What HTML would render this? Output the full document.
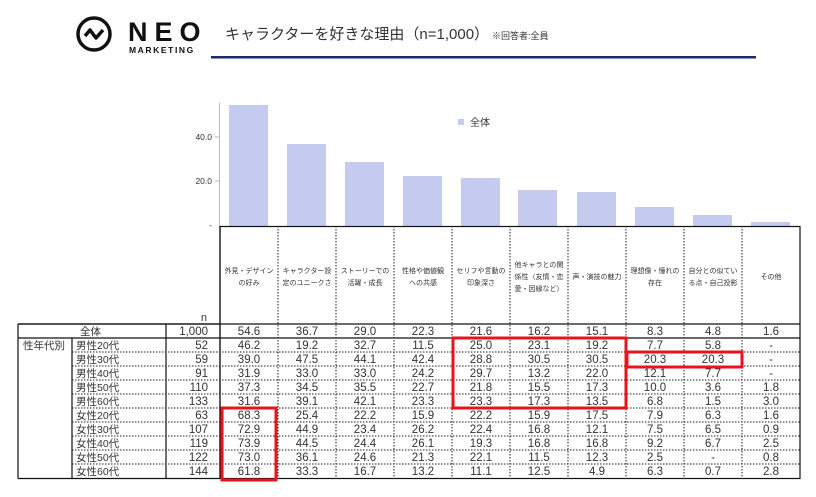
<!DOCTYPE html>
<html><head><meta charset="utf-8"><style>
html,body{margin:0;padding:0;background:#fff;width:816px;height:497px;overflow:hidden}
svg{display:block;font-family:"Liberation Sans","Noto Sans CJK JP",sans-serif}
.n{font-size:11.5px;fill:#333;text-anchor:middle}
.r{font-size:11.5px;fill:#333;text-anchor:end}
.l{font-size:10.5px;fill:#333}
.h{font-size:7px;fill:#333;text-anchor:middle}
.dot{stroke:#222;stroke-width:1;stroke-dasharray:1.5,1.5}
</style></head><body>
<svg width="816" height="497" viewBox="0 0 816 497">
<circle cx="94" cy="34" r="16" fill="none" stroke="#111" stroke-width="3.5"/>
<polyline points="85,36 90,30 96,38 103,30" fill="none" stroke="#111" stroke-width="3.5" stroke-linejoin="round"/>
<text x="128" y="41" font-size="27" font-weight="bold" fill="#111" letter-spacing="7">NEO</text>
<text x="129" y="53" font-size="8.5" font-weight="bold" fill="#111" letter-spacing="1.6">MARKETING</text>
<text x="225" y="39" font-size="15" fill="#333">キャラクターを好きな理由（n=1,000）</text>
<text x="492" y="39" font-size="9" fill="#333">※回答者:全員</text>
<rect x="211" y="56" width="545" height="2.5" fill="#1f2a6b"/>
<line x1="219.5" y1="103" x2="219.5" y2="226" stroke="#bbb"/>
<text x="212" y="140" font-size="8.5" fill="#333" text-anchor="end">40.0</text>
<text x="212" y="184" font-size="8.5" fill="#333" text-anchor="end">20.0</text>
<text x="212" y="228" font-size="8.5" fill="#333" text-anchor="end">-</text>
<line x1="215" y1="137" x2="219" y2="137" stroke="#bbb"/>
<line x1="215" y1="181" x2="219" y2="181" stroke="#bbb"/>
<g fill="#c5cbef">
<rect x="229" y="105" width="39" height="121"/>
<rect x="287" y="144" width="39" height="82"/>
<rect x="345" y="162" width="39" height="64"/>
<rect x="403" y="176" width="39" height="50"/>
<rect x="461" y="178" width="39" height="48"/>
<rect x="518" y="190" width="39" height="36"/>
<rect x="577" y="192" width="39" height="34"/>
<rect x="635" y="207" width="39" height="19"/>
<rect x="693" y="215" width="39" height="11"/>
<rect x="751" y="222" width="39" height="4"/>
</g>
<rect x="458" y="119" width="6" height="6" fill="#c5cbef"/>
<text x="470" y="126" font-size="10" fill="#333">全体</text>
<g stroke="#111" stroke-width="1.2" fill="none">
<rect x="220" y="226.5" width="580" height="252"/>
<line x1="18" y1="324" x2="220" y2="324"/>
<line x1="18" y1="324" x2="18" y2="478.5"/>
<line x1="18" y1="478.5" x2="220" y2="478.5"/>
<line x1="166" y1="324" x2="166" y2="478.5"/>
<line x1="72" y1="338" x2="72" y2="478.5"/>
<line x1="18" y1="324" x2="800" y2="324"/>
<line x1="18" y1="338" x2="800" y2="338"/>
<line x1="220" y1="226" x2="220" y2="478.5"/>
</g>
<g class="dot">
<line x1="278" y1="226" x2="278" y2="478"/><line x1="336" y1="226" x2="336" y2="478"/>
<line x1="394" y1="226" x2="394" y2="478"/><line x1="452" y1="226" x2="452" y2="478"/>
<line x1="510" y1="226" x2="510" y2="478"/><line x1="568" y1="226" x2="568" y2="478"/>
<line x1="626" y1="226" x2="626" y2="478"/><line x1="684" y1="226" x2="684" y2="478"/>
<line x1="742" y1="226" x2="742" y2="478"/>
<line x1="72" y1="352" x2="800" y2="352"/><line x1="72" y1="366" x2="800" y2="366"/>
<line x1="72" y1="380" x2="800" y2="380"/><line x1="72" y1="394" x2="800" y2="394"/>
<line x1="72" y1="408" x2="800" y2="408"/><line x1="72" y1="422" x2="800" y2="422"/>
<line x1="72" y1="436" x2="800" y2="436"/><line x1="72" y1="450" x2="800" y2="450"/>
<line x1="72" y1="464" x2="800" y2="464"/>
</g>
<text class="h" x="249" y="273">外見・デザイン</text><text class="h" x="249" y="285">の好み</text>
<text class="h" x="307" y="273">キャラクター設</text><text class="h" x="307" y="285">定のユニークさ</text>
<text class="h" x="365" y="273">ストーリーでの</text><text class="h" x="365" y="285">活躍・成長</text>
<text class="h" x="423" y="273">性格や価値観</text><text class="h" x="423" y="285">への共感</text>
<text class="h" x="481" y="273">セリフや言動の</text><text class="h" x="481" y="285">印象深さ</text>
<text class="h" x="539" y="267">他キャラとの関</text><text class="h" x="539" y="279">係性（友情・恋</text><text class="h" x="539" y="291">愛・因縁など）</text>
<text class="h" x="597" y="279">声・演技の魅力</text>
<text class="h" x="655" y="273">理想像・憧れの</text><text class="h" x="655" y="285">存在</text>
<text class="h" x="713" y="273">自分との似てい</text><text class="h" x="713" y="285">る点・自己投影</text>
<text class="h" x="771" y="279">その他</text>
<text class="r" x="207" y="321" style="font-size:11px">n</text>

<text class="l" x="80" y="335">全体</text><text class="r" x="208" y="335">1,000</text>
<text class="n" x="249" y="335">54.6</text><text class="n" x="307" y="335">36.7</text><text class="n" x="365" y="335">29.0</text><text class="n" x="423" y="335">22.3</text><text class="n" x="481" y="335">21.6</text><text class="n" x="539" y="335">16.2</text><text class="n" x="597" y="335">15.1</text><text class="n" x="655" y="335">8.3</text><text class="n" x="713" y="335">4.8</text><text class="n" x="771" y="335">1.6</text>

<text class="l" x="23" y="349">性年代別</text>
<text class="l" x="76" y="349">男性20代</text><text class="r" x="208" y="349">52</text>
<text class="n" x="249" y="349">46.2</text><text class="n" x="307" y="349">19.2</text><text class="n" x="365" y="349">32.7</text><text class="n" x="423" y="349">11.5</text><text class="n" x="481" y="349">25.0</text><text class="n" x="539" y="349">23.1</text><text class="n" x="597" y="349">19.2</text><text class="n" x="655" y="349">7.7</text><text class="n" x="713" y="349">5.8</text><text class="n" x="771" y="349">-</text>

<text class="l" x="76" y="363">男性30代</text><text class="r" x="208" y="363">59</text>
<text class="n" x="249" y="363">39.0</text><text class="n" x="307" y="363">47.5</text><text class="n" x="365" y="363">44.1</text><text class="n" x="423" y="363">42.4</text><text class="n" x="481" y="363">28.8</text><text class="n" x="539" y="363">30.5</text><text class="n" x="597" y="363">30.5</text><text class="n" x="655" y="363">20.3</text><text class="n" x="713" y="363">20.3</text><text class="n" x="771" y="363">-</text>

<text class="l" x="76" y="377">男性40代</text><text class="r" x="208" y="377">91</text>
<text class="n" x="249" y="377">31.9</text><text class="n" x="307" y="377">33.0</text><text class="n" x="365" y="377">33.0</text><text class="n" x="423" y="377">24.2</text><text class="n" x="481" y="377">29.7</text><text class="n" x="539" y="377">13.2</text><text class="n" x="597" y="377">22.0</text><text class="n" x="655" y="377">12.1</text><text class="n" x="713" y="377">7.7</text><text class="n" x="771" y="377">-</text>

<text class="l" x="76" y="391">男性50代</text><text class="r" x="208" y="391">110</text>
<text class="n" x="249" y="391">37.3</text><text class="n" x="307" y="391">34.5</text><text class="n" x="365" y="391">35.5</text><text class="n" x="423" y="391">22.7</text><text class="n" x="481" y="391">21.8</text><text class="n" x="539" y="391">15.5</text><text class="n" x="597" y="391">17.3</text><text class="n" x="655" y="391">10.0</text><text class="n" x="713" y="391">3.6</text><text class="n" x="771" y="391">1.8</text>

<text class="l" x="76" y="405">男性60代</text><text class="r" x="208" y="405">133</text>
<text class="n" x="249" y="405">31.6</text><text class="n" x="307" y="405">39.1</text><text class="n" x="365" y="405">42.1</text><text class="n" x="423" y="405">23.3</text><text class="n" x="481" y="405">23.3</text><text class="n" x="539" y="405">17.3</text><text class="n" x="597" y="405">13.5</text><text class="n" x="655" y="405">6.8</text><text class="n" x="713" y="405">1.5</text><text class="n" x="771" y="405">3.0</text>

<text class="l" x="76" y="419">女性20代</text><text class="r" x="208" y="419">63</text>
<text class="n" x="249" y="419">68.3</text><text class="n" x="307" y="419">25.4</text><text class="n" x="365" y="419">22.2</text><text class="n" x="423" y="419">15.9</text><text class="n" x="481" y="419">22.2</text><text class="n" x="539" y="419">15.9</text><text class="n" x="597" y="419">17.5</text><text class="n" x="655" y="419">7.9</text><text class="n" x="713" y="419">6.3</text><text class="n" x="771" y="419">1.6</text>

<text class="l" x="76" y="433">女性30代</text><text class="r" x="208" y="433">107</text>
<text class="n" x="249" y="433">72.9</text><text class="n" x="307" y="433">44.9</text><text class="n" x="365" y="433">23.4</text><text class="n" x="423" y="433">26.2</text><text class="n" x="481" y="433">22.4</text><text class="n" x="539" y="433">16.8</text><text class="n" x="597" y="433">12.1</text><text class="n" x="655" y="433">7.5</text><text class="n" x="713" y="433">6.5</text><text class="n" x="771" y="433">0.9</text>

<text class="l" x="76" y="447">女性40代</text><text class="r" x="208" y="447">119</text>
<text class="n" x="249" y="447">73.9</text><text class="n" x="307" y="447">44.5</text><text class="n" x="365" y="447">24.4</text><text class="n" x="423" y="447">26.1</text><text class="n" x="481" y="447">19.3</text><text class="n" x="539" y="447">16.8</text><text class="n" x="597" y="447">16.8</text><text class="n" x="655" y="447">9.2</text><text class="n" x="713" y="447">6.7</text><text class="n" x="771" y="447">2.5</text>

<text class="l" x="76" y="461">女性50代</text><text class="r" x="208" y="461">122</text>
<text class="n" x="249" y="461">73.0</text><text class="n" x="307" y="461">36.1</text><text class="n" x="365" y="461">24.6</text><text class="n" x="423" y="461">21.3</text><text class="n" x="481" y="461">22.1</text><text class="n" x="539" y="461">11.5</text><text class="n" x="597" y="461">12.3</text><text class="n" x="655" y="461">2.5</text><text class="n" x="713" y="461">-</text><text class="n" x="771" y="461">0.8</text>

<text class="l" x="76" y="475">女性60代</text><text class="r" x="208" y="475">144</text>
<text class="n" x="249" y="475">61.8</text><text class="n" x="307" y="475">33.3</text><text class="n" x="365" y="475">16.7</text><text class="n" x="423" y="475">13.2</text><text class="n" x="481" y="475">11.1</text><text class="n" x="539" y="475">12.5</text><text class="n" x="597" y="475">4.9</text><text class="n" x="655" y="475">6.3</text><text class="n" x="713" y="475">0.7</text><text class="n" x="771" y="475">2.8</text>

<g fill="none" stroke="#e8141b" stroke-width="3">
<rect x="222" y="408" width="54" height="72"/>
<rect x="453" y="338" width="173" height="70"/>
<rect x="627" y="352" width="115" height="15"/>
</g>
</svg>
</body></html>
